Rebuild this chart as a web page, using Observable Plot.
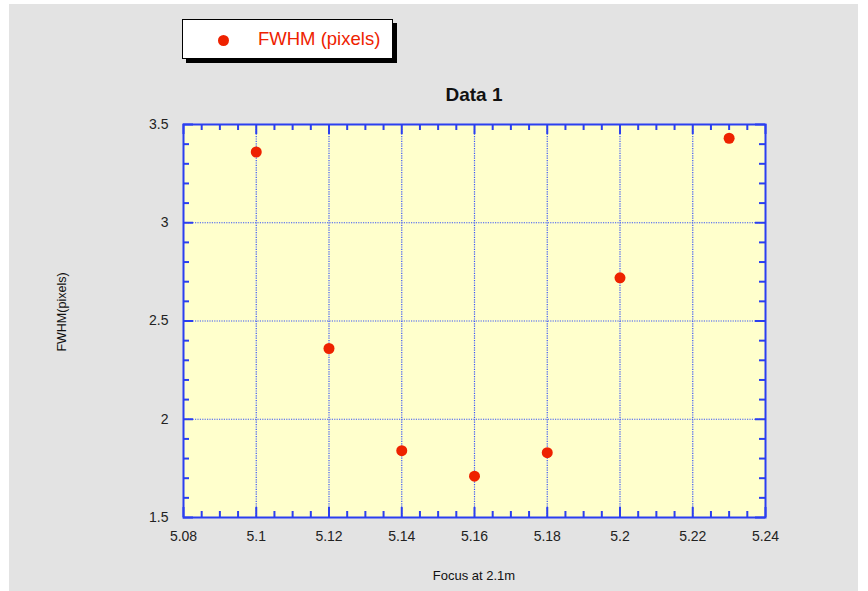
<!DOCTYPE html>
<html>
<head>
<meta charset="utf-8">
<script src="https://cdn.jsdelivr.net/npm/d3@7"></script>
<script src="https://cdn.jsdelivr.net/npm/@observablehq/plot@0.6"></script>
<style>
  html, body { margin: 0; padding: 0; background: #ffffff; }
  #wrap { position: relative; width: 868px; height: 591px; overflow: hidden; font-family: "Liberation Sans", Arial, Helvetica, sans-serif; }
  #bg { position: absolute; left: 9px; top: 4px; width: 849px; height: 587px; background: #e3e3e3; }
  #chart { position: absolute; left: 0; top: 0; }
  #legend { position: absolute; left: 182px; top: 19px; width: 209px; height: 38px; background: #ffffff; border: 1px solid #000; box-shadow: 4px 4px 0 #000; }
  #legend .dot { position: absolute; left: 35px; top: 15px; width: 11px; height: 11px; border-radius: 50%; background: #ee2200; }
  #legend .txt { position: absolute; left: 75px; top: 8px; font-size: 18.5px; color: #ee2200; white-space: nowrap; }
  #title { position: absolute; left: 374px; width: 200px; top: 84px; text-align: center; font-size: 19px; font-weight: bold; color: #111; }
  #ylab { position: absolute; left: 62px; top: 312px; transform: translate(-50%, -50%) rotate(-90deg); font-family: "Liberation Sans Narrow", "Arial Narrow", "Liberation Sans", sans-serif; font-size: 12.5px; color: #111; white-space: nowrap; }
  #xlab { position: absolute; left: 374px; width: 200px; top: 568px; text-align: center; font-family: "Liberation Sans Narrow", "Arial Narrow", "Liberation Sans", sans-serif; font-size: 13px; color: #111; }
</style>
</head>
<body>
<div id="wrap">
  <div id="bg"></div>
  <div id="chart"></div>
  <div id="legend"><div class="dot"></div><div class="txt">FWHM (pixels)</div></div>
  <div id="title">Data 1</div>
  <div id="ylab">FWHM(pixels)</div>
  <div id="xlab">Focus at 2.1m</div>
</div>
<script>
// Data
const focus = [5.10, 5.12, 5.14, 5.16, 5.18, 5.20, 5.23];
const fwhm  = [3.36, 2.36, 1.84, 1.71, 1.83, 2.72, 3.43];

// Tick labels / positions
const xMajor = [5.08, 5.10, 5.12, 5.14, 5.16, 5.18, 5.20, 5.22, 5.24];
const xMajorLabels = ["5.08", "5.1", "5.12", "5.14", "5.16", "5.18", "5.2", "5.22", "5.24"];
const xMinor = [5.085, 5.09, 5.095, 5.105, 5.11, 5.115, 5.125, 5.13, 5.135, 5.145, 5.15, 5.155,
                5.165, 5.17, 5.175, 5.185, 5.19, 5.195, 5.205, 5.21, 5.215, 5.225, 5.23, 5.235];
const yMajor = [1.5, 2, 2.5, 3, 3.5];
const yMajorLabels = ["1.5", "2", "2.5", "3", "3.5"];
const yMinor = [1.6, 1.7, 1.8, 1.9, 2.1, 2.2, 2.3, 2.4, 2.6, 2.7, 2.8, 2.9, 3.1, 3.2, 3.3, 3.4];

const points = focus.map((f, i) => ({focus: f, fwhm: fwhm[i]}));

const W = 868, H = 591;
const mL = 183, mR = 103, mT = 124, mB = 74;
const pw = W - mL - mR, ph = H - mT - mB;
const blue = "#2b3ff0";
const gridBlue = "#3a55f5";
const majorLen = 10, minorLen = 6;

const xInner = xMajor.slice(1, -1);
const yInner = yMajor.slice(1, -1);

const chart = Plot.plot({
  width: W, height: H,
  marginLeft: mL, marginRight: mR, marginTop: mT, marginBottom: mB,
  style: {background: "transparent", fontFamily: "Liberation Sans, Arial, sans-serif", color: "#222"},
  x: {domain: [5.08, 5.24]},
  y: {domain: [1.5, 3.5]},
  marks: [
    Plot.frame({fill: "#ffffcc", stroke: "none"}),
    // dotted grid
    Plot.ruleX(xInner, {x: d => d, stroke: gridBlue, strokeWidth: 1.2, strokeDasharray: "1.2,1.2"}),
    Plot.ruleY(yInner, {y: d => d, stroke: gridBlue, strokeWidth: 1.2, strokeDasharray: "1.2,1.2"}),
    // inward ticks: bottom / top
    Plot.tickX(xMajor, {x: d => d, stroke: blue, strokeWidth: 2, insetTop: ph - majorLen}),
    Plot.tickX(xMajor, {x: d => d, stroke: blue, strokeWidth: 2, insetBottom: ph - majorLen}),
    Plot.tickX(xMinor, {x: d => d, stroke: blue, strokeWidth: 2, insetTop: ph - minorLen}),
    Plot.tickX(xMinor, {x: d => d, stroke: blue, strokeWidth: 2, insetBottom: ph - minorLen}),
    // inward ticks: left / right
    Plot.tickY(yMajor, {y: d => d, stroke: blue, strokeWidth: 2, insetRight: pw - majorLen}),
    Plot.tickY(yMajor, {y: d => d, stroke: blue, strokeWidth: 2, insetLeft: pw - majorLen}),
    Plot.tickY(yMinor, {y: d => d, stroke: blue, strokeWidth: 2, insetRight: pw - minorLen}),
    Plot.tickY(yMinor, {y: d => d, stroke: blue, strokeWidth: 2, insetLeft: pw - minorLen}),
    Plot.frame({stroke: blue, strokeWidth: 2}),
    // tick labels
    Plot.axisX(xMajor, {tickSize: 0, tickPadding: 14, fontSize: 14, tickFormat: (d, i) => xMajorLabels[i], label: null}),
    Plot.axisY(yMajor, {tickSize: 0, tickPadding: 15, fontSize: 14, tickFormat: (d, i) => yMajorLabels[i], label: null}),
    // data
    Plot.dot(points, {x: "focus", y: "fwhm", r: 5.5, fill: "#ee2200", stroke: "none"})
  ]
});
document.getElementById("chart").appendChild(chart);
</script>
</body>
</html>
